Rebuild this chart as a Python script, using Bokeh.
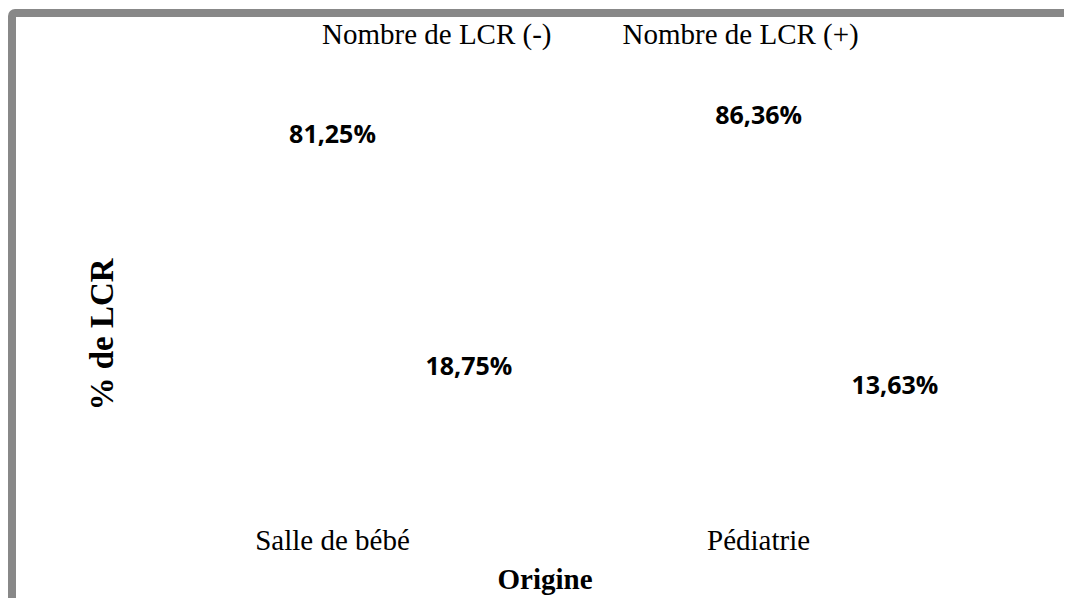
from bokeh.plotting import figure
from bokeh.models import (ColumnDataSource, Range1d, Legend, LegendItem, FixedTicker, Div, Spacer,
                          Title)
from bokeh.layouts import column, row
from bokeh.core.properties import value
from bokeh.embed import file_html
from bokeh.resources import INLINE

categories = ["Salle de bébé", "Pédiatrie"]
series_names = ["Nombre de LCR (-)", "Nombre de LCR (+)"]
lcr_neg = [81.25, 86.36]
lcr_pos = [18.75, 13.63]
x_title = "Origine"
y_title = "% de LCR"

def fmt(v):
    return f"{v:.2f}".replace(".", ",") + "%"

idx = list(range(len(categories)))
DODGE = 0.32
src = ColumnDataSource(dict(
    x_neg=[i for i in idx],
    x_pos=[i + DODGE for i in idx],
    neg=lcr_neg,
    pos=lcr_pos,
    neg_lbl=[fmt(v) for v in lcr_neg],
    pos_lbl=[fmt(v) for v in lcr_pos],
))

p = figure(
    x_range=Range1d(-0.5, 1.711), y_range=Range1d(0, 115.5),
    width=1045, height=581, output_backend="svg", toolbar_location=None,
    min_border_left=103, min_border_right=0, min_border_top=0, min_border_bottom=152,
    background_fill_color="white", border_fill_color="white",
)
p.outline_line_color = None
p.grid.grid_line_color = None

r_neg = p.vbar(x="x_neg", top="neg", width=0.3, source=src, fill_alpha=0, line_alpha=0)
r_pos = p.vbar(x="x_pos", top="pos", width=0.3, source=src, fill_alpha=0, line_alpha=0)

lab_font = value("Open Sans")
for xcol, ycol, tcol in (("x_neg", "neg", "neg_lbl"), ("x_pos", "pos", "pos_lbl")):
    p.text(x=xcol, y=ycol, text=tcol, source=src,
           text_align="center", text_baseline="middle", y_offset=-12,
           text_font=lab_font, text_font_style="bold", text_font_size="25px", text_color="black")

serif = "Liberation Serif"
p.xaxis.ticker = FixedTicker(ticks=idx)
p.xaxis.major_label_overrides = {i: c for i, c in zip(idx, categories)}
p.xaxis.axis_line_color = None
p.xaxis.major_tick_line_color = None
p.xaxis.minor_tick_line_color = None
p.xaxis.major_tick_out = 0
p.xaxis.major_label_text_font = serif
p.xaxis.major_label_text_font_size = "29px"
p.xaxis.major_label_text_color = "black"
p.xaxis.major_label_standoff = 77

p.yaxis.ticker = FixedTicker(ticks=[])
p.yaxis.axis_line_color = None
p.yaxis.major_tick_line_color = None
p.yaxis.minor_tick_line_color = None
p.yaxis.major_tick_out = 0
p.yaxis.major_label_standoff = 0

p.add_layout(Title(text=x_title, align="left", offset=378, standoff=4,
                   text_font=serif, text_font_size="29px", text_font_style="bold",
                   text_color="black"), "below")
p.add_layout(Title(text=y_title, align="left", offset=36, standoff=0,
                   text_font=serif, text_font_size="33px", text_font_style="bold",
                   text_color="black"), "left")

legend = Legend(items=[LegendItem(label=series_names[0], renderers=[r_neg]),
                       LegendItem(label=series_names[1], renderers=[r_pos])],
                orientation="horizontal", location=(202, 395),
                padding=0, margin=0, spacing=70, glyph_width=1, label_standoff=0,
                label_text_font=serif, label_text_font_size="29px", label_text_color="black",
                border_line_color=None, background_fill_alpha=0)
p.add_layout(legend, "center")

grey = "#888888"
top_bar = Div(text="", width=1048, height=8, margin=0, styles={"background-color": grey})
left_bar = Div(text="", width=8, height=589, margin=0,
               styles={"background-color": grey, "border-top-left-radius": "7px"})
page = column(Spacer(height=9), row(Spacer(width=8), left_bar, column(top_bar, p)))

open("out.html", "w").write(file_html(page, INLINE))
